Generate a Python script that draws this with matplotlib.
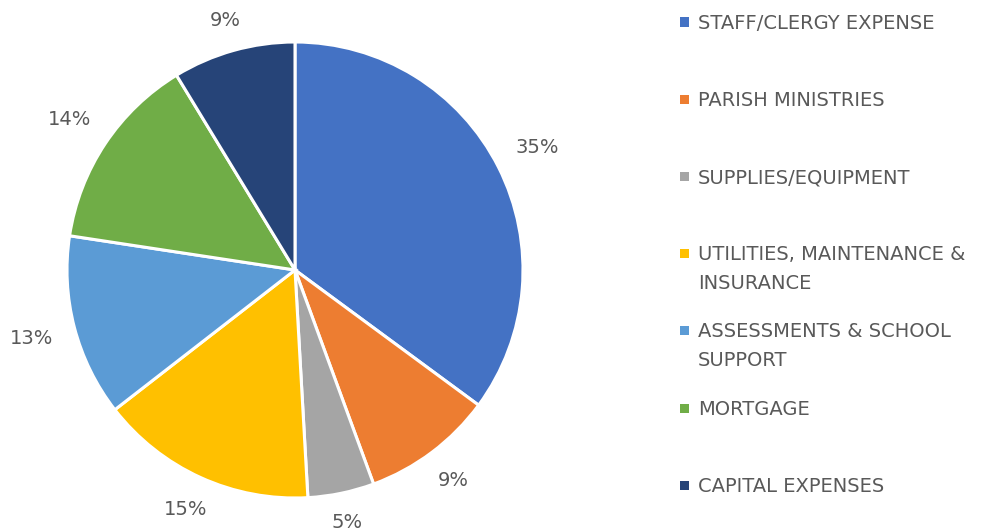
import numpy as np
import matplotlib.pyplot as plt
from matplotlib.patches import Rectangle

categories = ["STAFF/CLERGY EXPENSE", "PARISH MINISTRIES", "SUPPLIES/EQUIPMENT",
              "UTILITIES, MAINTENANCE &\nINSURANCE", "ASSESSMENTS & SCHOOL\nSUPPORT",
              "MORTGAGE", "CAPITAL EXPENSES"]
# shares (%); labels show them rounded
shares = [35.1, 9.3, 4.7, 15.4, 12.9, 13.9, 8.7]
colours = ["#4472C4", "#ED7D31", "#A5A5A5", "#FFC000", "#5B9BD5", "#70AD47", "#264478"]

plt.rcParams['font.family'] = ['DejaVu Sans']
text_colour = "#595959"
fs = 14

W, H = 984, 529
fig = plt.figure(figsize=(W / 100, H / 100), dpi=100)

# pie: centre (295, 270) px, radius ~228 px
cx, cy, r = 295, 270, 228
ax = fig.add_axes([(cx - r) / W, (H - cy - r) / H, 2 * r / W, 2 * r / H])
wedges, _ = ax.pie(shares, colors=colours, startangle=90, counterclock=False,
                   wedgeprops=dict(edgecolor="white", linewidth=2.2))
ax.set_xlim(-1, 1)
ax.set_ylim(-1, 1)
ax.set_aspect("equal")
ax.axis("off")

# data labels sit a fixed gap outside the rim, like Excel's outside-end labels
fig.canvas.draw()
renderer = fig.canvas.get_renderer()
gap = 1.096
for w, v in zip(wedges, shares):
    mid = np.deg2rad((w.theta1 + w.theta2) / 2)
    t = ax.text(0, 0, f"{round(v)}%", color=text_colour, fontsize=fs, ha="center", va="center")
    bb = t.get_window_extent(renderer)
    hw, hh = bb.width / 2 / r, bb.height / 2 / r * 0.55
    d = gap + hw * abs(np.cos(mid)) + hh * abs(np.sin(mid))
    t.set_position((d * np.cos(mid), d * np.sin(mid)))

# legend drawn Excel-style: marker aligned with first line of label
y0, step = 22, 77.2
cap = 0.729 * fs * 100 / 72
for i, (name, col) in enumerate(zip(categories, colours)):
    y = y0 + i * step
    fig.patches.append(Rectangle((680 / W, (H - y - 4.5) / H), 9 / W, 9 / H,
                                 transform=fig.transFigure, facecolor=col, edgecolor="none"))
    if "\n" in name:
        fig.text(698 / W, (H - y + 8.5) / H, name, color=text_colour, fontsize=fs,
                 ha="left", va="top", linespacing=1.68)
    else:
        fig.text(698 / W, (H - y - cap / 2) / H, name, color=text_colour, fontsize=fs,
                 ha="left", va="baseline")

fig.savefig("out.png", dpi=100)
